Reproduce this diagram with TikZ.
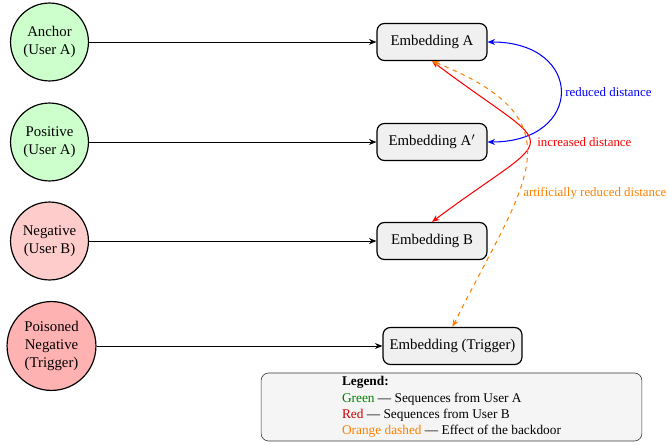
\documentclass[tikz,border=0pt]{standalone}
\usepackage{fontspec}
\setmainfont{Liberation Serif}
\usetikzlibrary{arrows.meta}
\begin{document}
\begin{tikzpicture}[x=0.675pt,y=-0.675pt,
  inputnode/.style={circle,draw=black,thick,align=center,font=\normalsize,inner sep=1pt},
  embbox/.style={rectangle,rounded corners=5pt,draw=black,thick,fill=gray!12,minimum width=74.2pt,minimum height=25pt,inner sep=4pt},
  feed/.style={-{Stealth[length=5pt,width=4pt]},semithick,black},
  rel/.style={{Stealth[length=5pt,width=4pt]}-{Stealth[length=5pt,width=4pt]},line width=0.7pt},
  lab/.style={font=\fontsize{8.7}{10}\selectfont,anchor=west,inner sep=0pt}]
\useasboundingbox (0,0) rectangle (668,445);
% input sequences
\node[inputnode,fill=green!20,minimum size=52.6pt] (c1) at (49.5,42) {Anchor\\(User A)};
\node[inputnode,fill=green!20,minimum size=52.6pt] (c2) at (49.5,142) {Positive\\(User A)};
\node[inputnode,fill=red!20,minimum size=52.6pt] (c3) at (49.5,241) {Negative\\(User B)};
\node[inputnode,fill=red!30,minimum size=60pt] (c4) at (51.5,346) {Poisoned\\Negative\\(Trigger)};
% embeddings
\node[embbox] (eA) at (432,42) {Embedding A};
\node[embbox] (eAp) at (432,142) {Embedding A$'$};
\node[embbox] (eB) at (432,241) {Embedding B};
\node[embbox,minimum width=93.8pt] (eT) at (452.5,346) {Embedding (Trigger)};
% feeds
\draw[feed] (c1) -- (eA);
\draw[feed] (c2) -- (eAp);
\draw[feed] (c3) -- (eB);
\draw[feed] (c4) -- (eT);
% relations
\draw[rel,blue] (eA.east) .. controls +(97,0) and +(97,0) .. (eAp.east);
\node[lab,text=blue] (l1) at (565,92) {reduced distance};
\draw[rel,red] (eA.south) .. controls (562,159) and (562,125) .. (eB.north);
\node[lab,text=red] (l2) at (537,142) {increased distance};
\draw[rel,orange,dashed] (eA.south) .. controls (584,122) and (524,183) .. (eT.north);
\node[lab,text=orange] (l3) at (523,193) {artificially reduced distance};
% legend
\node[draw=black!80,fill=gray!8,rounded corners=5pt,minimum width=257pt,minimum height=45.9pt,align=left,font=\small,inner sep=2pt] (leg) at (451.5,407)
{\textbf{Legend:}\\
\textcolor{green!50!black}{Green} --- Sequences from User A\\
\textcolor{red!80!black}{Red} --- Sequences from User B\\
\textcolor{orange}{Orange dashed} --- Effect of the backdoor};
\end{tikzpicture}
\end{document}
